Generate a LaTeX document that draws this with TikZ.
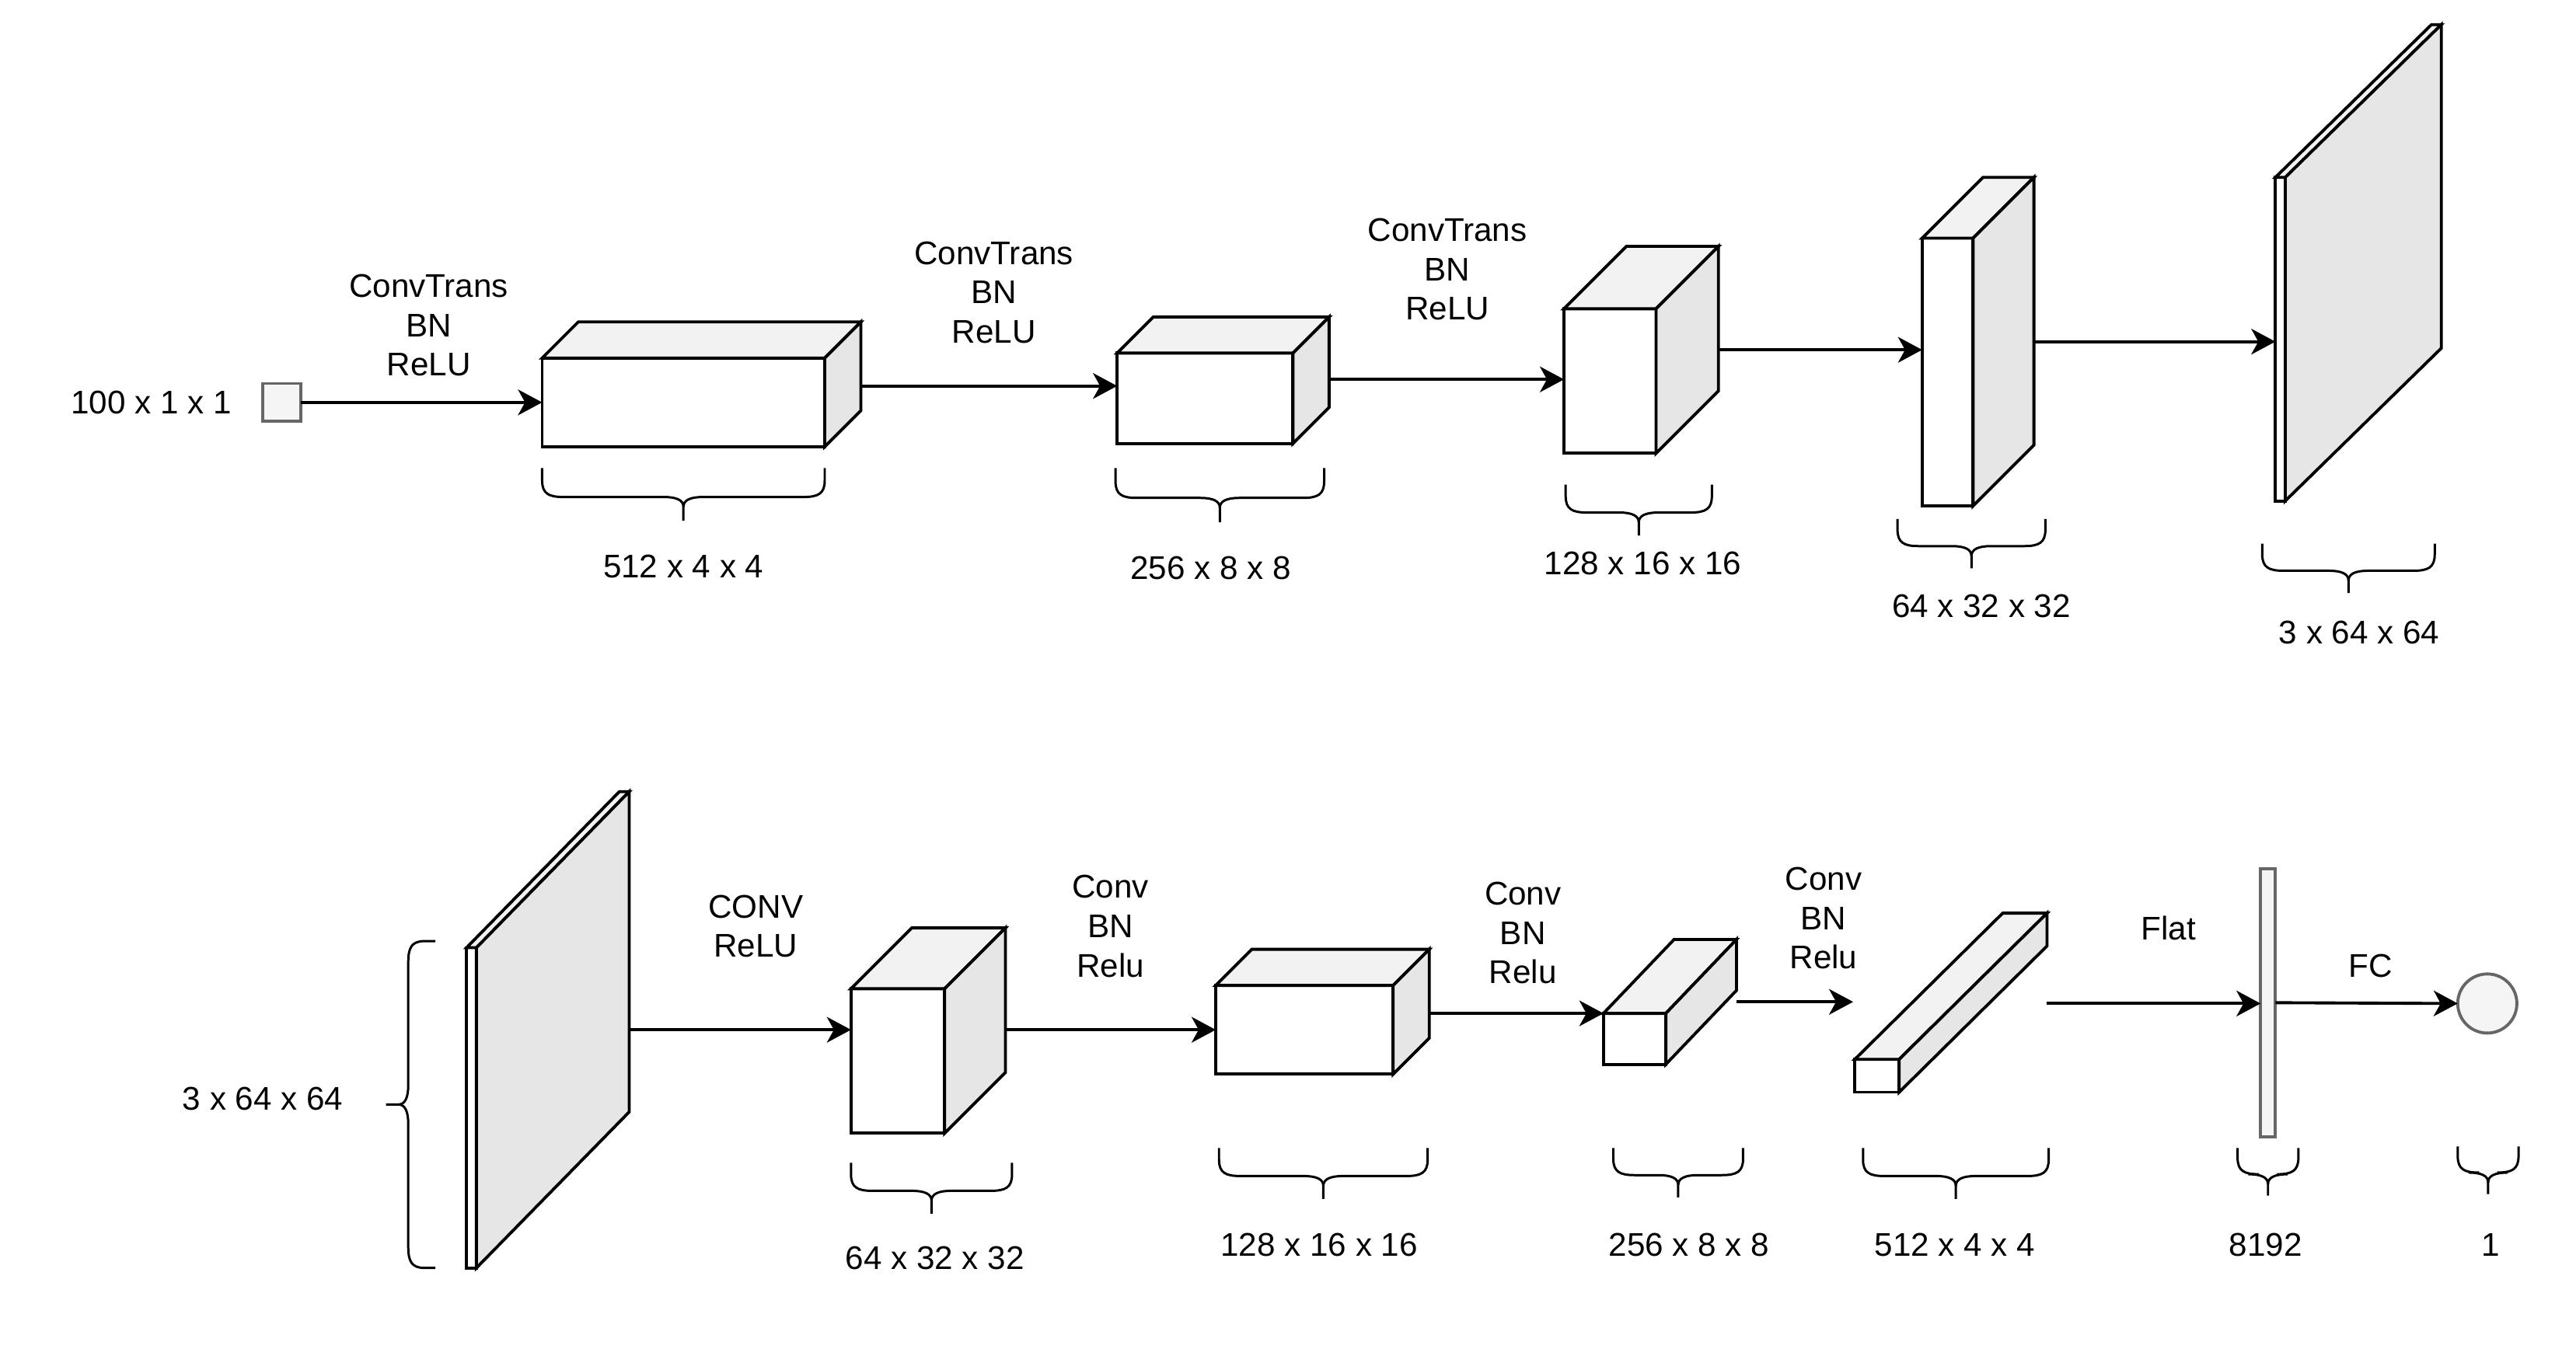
\documentclass[tikz,border=0pt]{standalone}
\usepackage{fontspec}
\setmainfont{Liberation Sans}
\usetikzlibrary{arrows.meta}
\definecolor{topc}{HTML}{F2F2F2}
\definecolor{sidec}{HTML}{E6E6E6}
\definecolor{lgray}{HTML}{F5F5F5}
\definecolor{dgray}{HTML}{666666}
\def\U{0.021135cm}
\tikzset{
 lw/.style={line width=1.1pt, line join=miter},
 frontface/.style={draw, lw, fill=white, rectangle, inner sep=0pt, outer sep=0pt},
 face/.style={draw, lw},
 sq/.style={draw=dgray, fill=lgray, lw, rectangle, inner sep=0pt, outer sep=0pt},
 arr/.style={lw, -{Stealth[length=0.31cm,width=0.33cm,inset=0.09cm]}},
 lbl/.style={font=\fontsize{12}{14.4}\selectfont, align=center, inner sep=0pt},
 br/.style={line width=0.85pt},
}
\newcommand\mycuboid[7]{%
  \node[frontface, minimum width={#4*\U}, minimum height={#5*\U}, anchor=north west] (#1) at (#2,#3) {};
  \draw[face, fill=topc] (#1.north west) -- ++(#6,-#7) -- ++(#4,0) -- (#1.north east) -- cycle;
  \draw[face, fill=sidec] (#1.north east) -- ++(#6,-#7) -- ++(0,#5) -- (#1.south east) -- cycle;
}
\newcommand\myhbrace[4]{%
  \pgfmathsetmacro\xm{(#1+#2)/2}%
  \pgfmathsetmacro\ym{#3+0.55*(#4-#3)}%
  \draw[br] (#1,#3) -- (#1,\ym-10) .. controls (#1,\ym-2) and (#1+4,\ym) .. (#1+13,\ym) -- (\xm-12,\ym) .. controls (\xm-4,\ym) and (\xm,\ym+2) .. (\xm,\ym+6) -- (\xm,#4);
  \draw[br] (#2,#3) -- (#2,\ym-10) .. controls (#2,\ym-2) and (#2-4,\ym) .. (#2-13,\ym) -- (\xm+12,\ym) .. controls (\xm+4,\ym) and (\xm,\ym+2) .. (\xm,\ym+6);
}
\newcommand\myvbrace[4]{%
  \pgfmathsetmacro\ym{(#3+#4)/2}%
  \pgfmathsetmacro\xm{#1-0.55*(#1-#2)}%
  \draw[br] (#1,#3) -- (\xm+10,#3) .. controls (\xm+2,#3) and (\xm,#3+4) .. (\xm,#3+13) -- (\xm,\ym-12) .. controls (\xm,\ym-4) and (\xm-2,\ym) .. (\xm-6,\ym) -- (#2,\ym);
  \draw[br] (#1,#4) -- (\xm+10,#4) .. controls (\xm+2,#4) and (\xm,#4-4) .. (\xm,#4-13) -- (\xm,\ym+12) .. controls (\xm,\ym+4) and (\xm-2,\ym) .. (\xm-6,\ym);
}
\begin{document}
\begin{tikzpicture}[x=\U, y=-\U]
\fill[white] (0,0) rectangle (1568,821);
\useasboundingbox (0,0) rectangle (1568,821);

% ---------- top row ----------
\node[lbl] (tin) at (92,245) {100 x 1 x 1};
\node[sq, minimum width={23*\U}, minimum height={23*\U}] (in) at (171.5,245) {};
\mycuboid{b1}{330}{218}{172}{54}{22}{22}
\mycuboid{b2}{680}{215}{107}{55}{22}{22}
\mycuboid{b3}{952}{188}{56}{88}{38}{38}
\mycuboid{b4}{1170}{145}{31}{163}{37}{37}
\mycuboid{b5}{1385}{108}{6}{197}{95}{93}

\node[lbl] (l1) at (261,198) {ConvTrans\\BN\\ReLU};
\node[lbl] (l2) at (605,178) {ConvTrans\\BN\\ReLU};
\node[lbl] (l3) at (881,164) {ConvTrans\\BN\\ReLU};

\coordinate (b1o) at (524,235);
\coordinate (b2o) at (808,231);
\coordinate (b3o) at (1046,213);
\coordinate (b4o) at (1238,208);
\draw[arr] (in.east) -- (in.east -| b1.west);
\draw[arr] (b1o) -- (b1o -| b2.west);
\draw[arr] (b2o) -- (b2o -| b3.west);
\draw[arr] (b3o) -- (b3o -| b4.west);
\draw[arr] (b4o) -- (b4o -| b5.west);

\myhbrace{330}{502}{285}{317}
\myhbrace{679}{806}{285}{318}
\myhbrace{953}{1042}{295}{326}
\myhbrace{1155}{1245}{316}{346}
\myhbrace{1377}{1482}{331}{361}
\node[lbl] (s1) at (416,345) {512 x 4 x 4};
\node[lbl] (s2) at (737,346) {256 x 8 x 8};
\node[lbl] (s3) at (1000,343) {128 x 16 x 16};
\node[lbl] (s4) at (1206,369) {64 x 32 x 32};
\node[lbl] (s5) at (1436,385) {3 x 64 x 64};

% ---------- bottom row ----------
\node[lbl] (s6) at (160,669) {3 x 64 x 64};
\myvbrace{265}{235}{573}{772}
\mycuboid{p2}{284}{577}{6}{195}{93}{95}
\mycuboid{b6}{518}{602}{57}{88}{37}{37}
\mycuboid{b7}{740}{600}{108}{54}{22}{22}
\mycuboid{b8}{976}{617}{38}{31}{43}{45}
\mycuboid{b9}{1129}{645}{27}{20}{90}{89}
\node[sq, minimum width={9*\U}, minimum height={163*\U}] (bar) at (1380.5,610.5) {};
\node[circle, draw=dgray, fill=lgray, lw, minimum size={36*\U}, inner sep=0pt, outer sep=0pt] (out) at (1514,611) {};

\node[lbl] (l4) at (460,564) {CONV\\ReLU};
\node[lbl] (l5) at (676,564) {Conv\\BN\\Relu};
\node[lbl] (l6) at (927,568) {Conv\\BN\\Relu};
\node[lbl] (l7) at (1110,559) {Conv\\BN\\Relu};
\node[lbl] (l8) at (1320,565) {Flat};
\node[lbl] (l9) at (1443,588) {FC};

\coordinate (p2o) at (383,627);
\coordinate (b6o) at (612,627);
\coordinate (b7o) at (870,617);
\coordinate (b8o) at (1057,610);
\coordinate (b9i) at (1128,610);
\coordinate (b9o) at (1246,611);
\draw[arr] (p2o) -- (p2o -| b6.west);
\draw[arr] (b6o) -- (b6o -| b7.west);
\draw[arr] (b7o) -- (b7o -| b8.west);
\draw[arr] (b8o) -- (b9i);
\draw[arr] (b9o) -- (b9o -| bar.west);
\draw[arr] (bar.east) -- (out.west);

\myhbrace{518}{616}{708}{739}
\myhbrace{742}{869}{699}{730}
\myhbrace{982}{1061}{699}{729}
\myhbrace{1134}{1247}{699}{730}
\myhbrace{1362}{1399}{699}{728}
\myhbrace{1496}{1533}{698}{727}
\node[lbl] (s7) at (569,766) {64 x 32 x 32};
\node[lbl] (s8) at (803,758) {128 x 16 x 16};
\node[lbl] (s9) at (1028,758) {256 x 8 x 8};
\node[lbl] (s10) at (1190,758) {512 x 4 x 4};
\node[lbl] (s11) at (1379,758) {8192};
\node[lbl] (s12) at (1516,758) {1};
\end{tikzpicture}
\end{document}
